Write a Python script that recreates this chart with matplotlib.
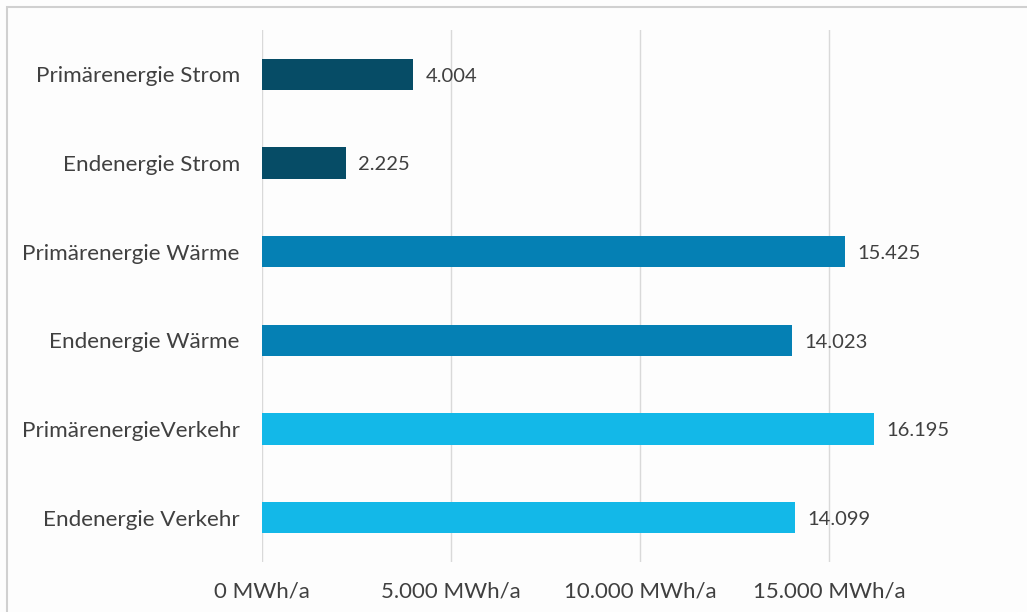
import matplotlib
matplotlib.use("Agg")
import matplotlib.pyplot as plt
from matplotlib.patches import Rectangle

categories = ["Primärenergie Strom", "Endenergie Strom", "Primärenergie Wärme",
              "Endenergie Wärme", "PrimärenergieVerkehr", "Endenergie Verkehr"]
values = [4004, 2225, 15425, 14023, 16195, 14099]
colors = ["#064c66", "#064c66", "#0580b4", "#0580b4", "#13b8e8", "#13b8e8"]
ticks = [0, 5000, 10000, 15000]
tick_labels = ["0 MWh/a", "5.000 MWh/a", "10.000 MWh/a", "15.000 MWh/a"]

plt.rcParams['font.family'] = ['Lato', 'DejaVu Sans']
text_color = "#404040"

fig = plt.figure(figsize=(10.27, 6.12), dpi=100, facecolor="#fdfdfd")
# chart frame, only left and top edges fall inside the image
fig.patches.append(Rectangle((6.5 / 1027, -0.1), 1.2, 1 - 6.5 / 612 + 0.1,
                             transform=fig.transFigure, fill=False,
                             edgecolor="#d0d0d0", lw=1.5))
ax = fig.add_axes([262 / 1027, 1 - 562 / 612, 756 / 1027, 532 / 612])
ax.set_facecolor("#fdfdfd")

y = list(range(len(categories)))
ax.barh(y, values, height=0.35, color=colors)
ax.set_ylim(len(categories) - 0.5, -0.5)
ax.set_xlim(0, 20000)

for yi, v in zip(y, values):
    ax.text(v + 320, yi + 0.02, f"{v:,}".replace(",", "."), va="center", ha="left",
            fontsize=14.5, color=text_color)

ax.set_yticks(y)
ax.set_yticklabels(categories, fontsize=16.2, color=text_color)
ax.set_xticks(ticks)
ax.set_xticklabels(tick_labels, fontsize=16, color=text_color)
ax.tick_params(axis="both", length=0)
ax.tick_params(axis="y", pad=16)
ax.tick_params(axis="x", pad=14)

ax.grid(axis="x", color="#d9d9d9", lw=1)
ax.set_axisbelow(True)
for s in ax.spines.values():
    s.set_visible(False)

fig.savefig("out.png", dpi=100, facecolor=fig.get_facecolor())
